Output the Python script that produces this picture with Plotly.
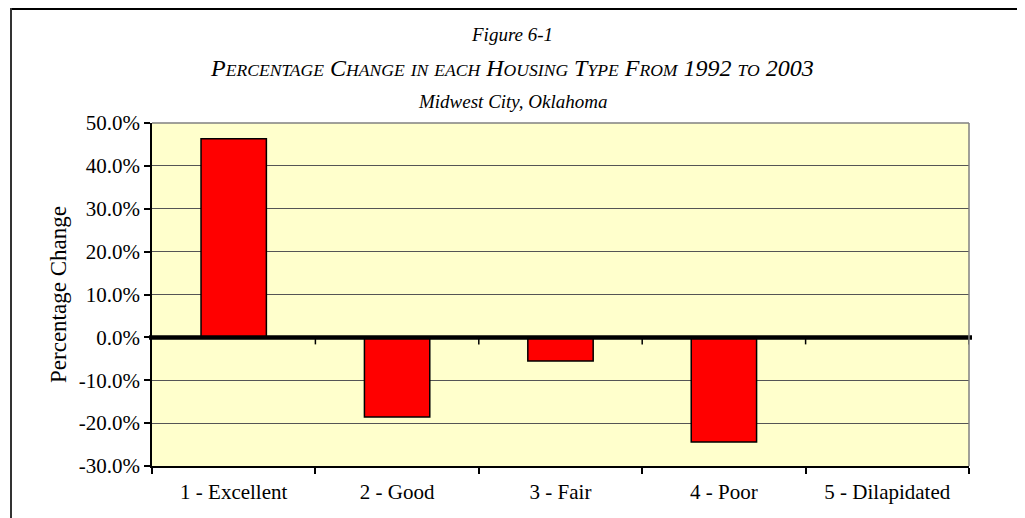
import plotly.graph_objects as go

categories = ["1 - Excellent", "2 - Good", "3 - Fair", "4 - Poor", "5 - Dilapidated"]
pct_change = [0.463, -0.186, -0.055, -0.244, 0.0]
y_ticks = [-0.3, -0.2, -0.1, 0.0, 0.1, 0.2, 0.3, 0.4, 0.5]
y_tick_labels = ["-30.0%", "-20.0%", "-10.0%", "0.0%", "10.0%", "20.0%", "30.0%", "40.0%", "50.0%"]

OFF = 8  # page body margin
W, H = 1025 - OFF, 518 - OFF
ML, MT = 152 - OFF, 123 - OFF
MR = W - (969 - OFF)
MB = H - (466 - OFF)
PW, PH = W - ML - MR, H - MT - MB
FONT = "Liberation Serif"

def px_x(p):
    return (p - OFF - ML) / PW

def px_y(p):
    return 1 - (p - OFF - MT) / PH

def smallcaps(text, big=24, small=17.6):
    out = []
    for word in text.split(" "):
        if word[0].isdigit():
            out.append(f"<span style='font-size:{big}px'>{word}</span>")
        elif word[0].isupper():
            out.append(f"<span style='font-size:{big}px'>{word[0]}</span>"
                       f"<span style='font-size:{small}px'>{word[1:].upper()}</span>")
        else:
            out.append(f"<span style='font-size:{small}px'>{word.upper()}</span>")
    return " ".join(out)

fig = go.Figure()
fig.add_trace(go.Bar(
    x=categories, y=pct_change,
    marker=dict(color="#FF0000", line=dict(color="#000000", width=1.5)),
    width=0.4,
    hoverinfo="skip",
))

shapes = []
for i in range(1, len(categories) + 1):
    shapes.append(dict(type="line", xref="x", yref="y", x0=i - 0.5, x1=i - 0.5,
                       ysizemode="pixel", yanchor=0, y0=-1, y1=-7,
                       line=dict(color="#000000", width=1.5)))
shapes.append(dict(type="line", xref="paper", yref="y", x0=px_x(149), x1=px_x(972), y0=0, y1=0,
                   line=dict(color="#000000", width=4.5)))
shapes.append(dict(type="line", xref="paper", yref="paper", x0=px_x(11), x1=px_x(1023),
                   y0=px_y(9), y1=px_y(9), line=dict(color="#000000", width=2)))
shapes.append(dict(type="line", xref="paper", yref="paper", x0=px_x(11), x1=px_x(11),
                   y0=px_y(8), y1=px_y(530), line=dict(color="#333333", width=2)))
shapes.append(dict(type="line", xref="paper", yref="paper", x0=px_x(1023), x1=px_x(1023),
                   y0=px_y(8), y1=px_y(530), line=dict(color="#CCCCCC", width=2)))
shapes.append(dict(type="line", xref="paper", yref="paper", x0=0, x1=1, y0=1, y1=1,
                   line=dict(color="#808080", width=1.5)))
shapes.append(dict(type="line", xref="paper", yref="paper", x0=1, x1=1, y0=0, y1=1,
                   line=dict(color="#808080", width=1.5)))

annotations = [
    dict(text="<i>Figure 6-1</i>", xref="paper", yref="paper", x=px_x(512), y=px_y(34),
         xanchor="center", yanchor="middle",
         showarrow=False, font=dict(family=FONT, size=19, color="#000000")),
    dict(text="<i>" + smallcaps("Percentage Change in each Housing Type From 1992 to 2003") + "</i>",
         xref="paper", yref="paper", x=px_x(512), y=px_y(68),
         xanchor="center", yanchor="middle",
         showarrow=False, font=dict(family=FONT, size=24, color="#000000")),
    dict(text="<i>Midwest City, Oklahoma</i>", xref="paper", yref="paper", x=px_x(512), y=px_y(102),
         xanchor="center", yanchor="middle",
         showarrow=False, font=dict(family=FONT, size=19, color="#000000")),
]

fig.update_layout(
    width=W, height=H,
    margin=dict(l=ML, r=MR, t=MT, b=MB),
    paper_bgcolor="#FFFFFF",
    plot_bgcolor="#FFFFCC",
    showlegend=False,
    bargap=0.6,
    font=dict(family=FONT, size=21, color="#000000"),
    shapes=shapes,
    annotations=annotations,
    xaxis=dict(
        type="category",
        tickson="boundaries",
        ticks="outside", ticklen=6, tickwidth=1.5, tickcolor="#000000",
        ticklabelstandoff=6,
        showline=True, linecolor="#000000", linewidth=1.5,
        showgrid=False, zeroline=False,
        tickfont=dict(family=FONT, size=21, color="#000000"),
        range=[-0.5, 4.5],
    ),
    yaxis=dict(
        range=[-0.3, 0.5],
        tickvals=y_ticks, ticktext=y_tick_labels,
        ticks="outside", ticklen=6, tickwidth=1.5, tickcolor="#000000",
        showline=True, linecolor="#000000", linewidth=1.5,
        showgrid=True, gridcolor="#555555", gridwidth=1,
        zeroline=False,
        tickfont=dict(family=FONT, size=21, color="#000000"),
        title=dict(text="Percentage Change", font=dict(family=FONT, size=23, color="#000000"), standoff=6),
    ),
)

fig.write_html("out.html")
